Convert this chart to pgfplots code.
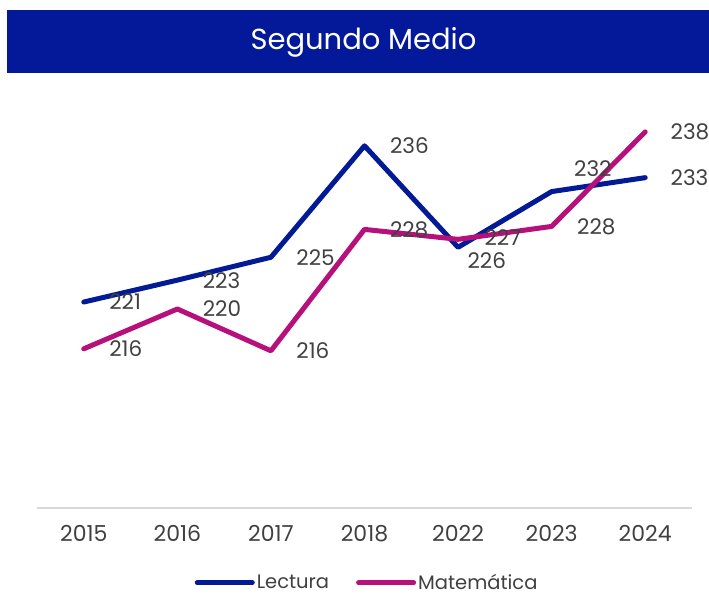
\documentclass[border=0pt]{standalone}
\usepackage{pgfplots}
\pgfplotsset{compat=1.18}
\usepackage{pgfplotstable}
\usepackage{fontspec}
\setmainfont{Poppins}

\definecolor{lectura}{HTML}{021A96}
\definecolor{mate}{HTML}{B8107A}
\definecolor{titulo}{HTML}{03199A}
\definecolor{texto}{HTML}{404040}
\definecolor{eje}{HTML}{D9D9D9}

% x = posición de la categoría, dx/dy = desplazamiento de la etiqueta
\pgfplotstableread{
x y dx dy
0 220.7 23 0
1 222.9 23 0
2 225.2 23 0
3 236.4 23 0
4 226.2 7 -13
5 231.8 20 23
6 233.2 23 0
}\lectura

\pgfplotstableread{
x y dx dy
0 216.0 23 0
1 220.0 23 0
2 215.8 23 0
3 228.0 23 0
4 227.0 24 2
5 228.3 23 0
6 237.8 23 0
}\matematica

\begin{document}
\begin{tikzpicture}
\path[use as bounding box] (-37pt,-88pt) rectangle (672pt,508pt);
\fill[titulo] (-30pt,435pt) rectangle (672pt,498pt);
\node[text=white, font=\fontsize{29}{33}\selectfont] at (326.5pt,466pt) {Segundo Medio};

\begin{axis}[
    scale only axis,
    width=655pt, height=398pt,
    xmin=-0.5, xmax=6.5,
    ymin=200, ymax=240,
    axis x line*=bottom,
    axis y line=none,
    x axis line style={-, draw=eje, line width=1.5pt},
    xtick={0,1,2,3,4,5,6},
    xticklabels={2015,2016,2017,2018,2022,2023,2024},
    major tick length=0pt,
    xticklabel style={font=\fontsize{22}{26}\selectfont, text=texto, yshift=-14pt},
    clip=false,
    /pgf/number format/.cd, fixed, precision=0, assume math mode=true,
    /pgfplots/.cd,
    nodes near coords,
    visualization depends on={\thisrow{dx} \as \ldx},
    visualization depends on={\thisrow{dy} \as \ldy},
    every node near coord/.append style={anchor=west, inner sep=0pt,
        xshift=\ldx pt, yshift=\ldy pt,
        font=\fontsize{21.5}{25}\selectfont, text=texto},
    legend columns=2,
    legend style={draw=none, fill=none, at={(0.504,-0.188)}, anchor=center,
        font=\fontsize{19.5}{22}\selectfont, text=texto,
        /tikz/every even column/.append style={column sep=25pt}},
    legend image code/.code={\draw[#1] (0pt,0pt) -- (55pt,0pt);},
    every axis plot/.append style={line width=5pt, line cap=round, line join=round},
]
\addplot[lectura, mark=none] table[x=x, y=y] {\lectura};
\addlegendentry{Lectura}
\addplot[mate, mark=none] table[x=x, y=y] {\matematica};
\addlegendentry{Matemática}
\end{axis}
\end{tikzpicture}
\end{document}
